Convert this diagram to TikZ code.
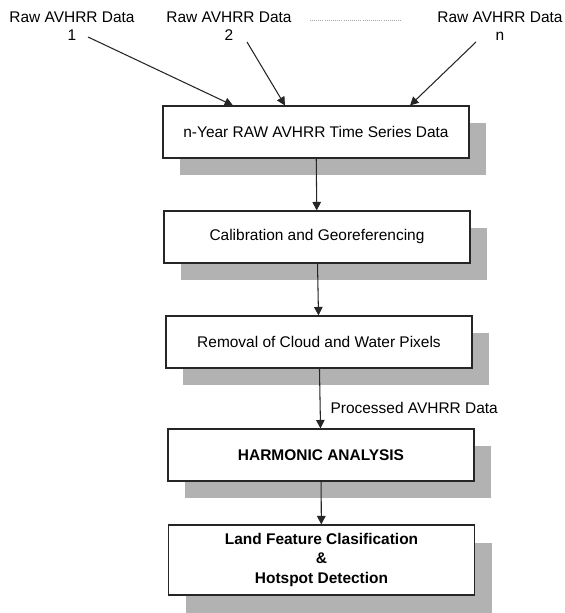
\documentclass[tikz,border=0pt]{standalone}
\usepackage{fontspec}
\setmainfont{Liberation Sans}
\usetikzlibrary{arrows.meta,shadows}

\tikzset{
	stagebox/.style={draw=black!85, line width=0.6pt, fill=white, minimum width=6.12cm, minimum height=1.04cm, inner sep=0pt, align=center, drop shadow={shadow xshift=0.34cm, shadow yshift=-0.35cm, fill=black!30, opacity=1}},
	boldbox/.style={stagebox, font=\fontsize{8.8}{11}\selectfont\bfseries},
	flow/.style={line width=0.6pt, draw=black!85, -{Triangle[length=0.17cm, width=0.17cm]}},
	rawlabel/.style={align=center},
	dotline/.style={line width=0.5pt, black!35, dash pattern=on 0.5pt off 0.7pt}
}

\begin{document}
\begin{tikzpicture}[font=\fontsize{8.8}{10.2}\selectfont]
			%%%%% FRAME %%%%%
			\path[fill=white, use as bounding box] (0, 0) rectangle (11.3, 12.26);
			
			%%%%% RAW INPUTS %%%%%
			\node[rawlabel] (raw1) at (1.44, 11.73) {Raw AVHRR Data\\1};
			\node[rawlabel] (raw2) at (4.58, 11.73) {Raw AVHRR Data\\2};
			\node[rawlabel] (rawn) at (10.0, 11.73) {Raw AVHRR Data\\n};
			\draw[dotline] ([xshift=0.24cm, yshift=0.13cm]raw2.east) -- ([xshift=-0.58cm, yshift=0.13cm]rawn.west);
			
			%%%%% STAGES %%%%%
			\node[stagebox] (series) at (6.32, 9.62) {n-Year RAW AVHRR Time Series Data};
			\node[stagebox] (calib) at (6.34, 7.52) {Calibration and Georeferencing};
			\node[stagebox] (removal) at (6.38, 5.42) {Removal of Cloud and Water Pixels};
			\node[boldbox] (harmonic) at (6.42, 3.16) {HARMONIC ANALYSIS};
			\node[boldbox, minimum height=1.4cm] (landclass) at (6.43, 1.06) {Land Feature Clasification\\\&\\Hotspot Detection};
			
			%%%%% FLOW %%%%%
			\draw[flow] ([xshift=0.32cm, yshift=-0.21cm]raw1.center) -- ([xshift=-1.66cm]series.north);
			\draw[flow] ([xshift=0.36cm, yshift=-0.31cm]raw2.center) -- ([xshift=-0.62cm]series.north);
			\draw[flow] ([xshift=-0.48cm, yshift=-0.31cm]rawn.center) -- ([xshift=1.88cm]series.north);
			
			\draw[flow] (series) -- (calib);
			\draw[flow] (calib) -- (removal);
			\draw[flow] (removal) -- node[pos=0.66, right, xshift=0.08cm] (procdata) {Processed AVHRR Data} (harmonic);
			\draw[flow] (harmonic) -- (landclass);
			
			%%%%% DONE %%%%%
\end{tikzpicture}
\end{document}
